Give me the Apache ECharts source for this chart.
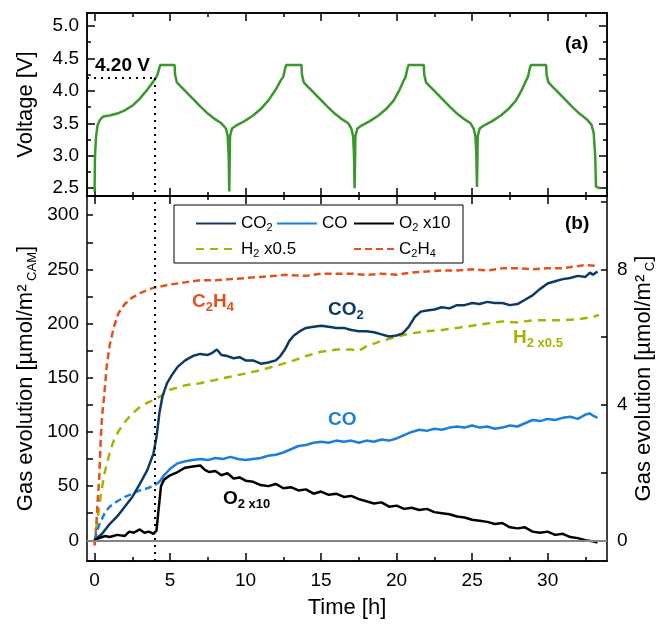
<!DOCTYPE html>
<html>
<head>
<meta charset="utf-8">
<script src="https://cdn.jsdelivr.net/npm/echarts@6/dist/echarts.min.js"></script>
<style>
html, body { margin: 0; padding: 0; background: #fff; }
#main { width: 660px; height: 624px; }
</style>
</head>
<body>
<div id="main"></div>
<script>
// axis ranges / ticks
var T_MIN = -0.5, T_MAX = 33.93;
var V_MIN = 2.38, V_MAX = 5.2;
var G_MIN = -19.1, G_MAX = 317.7;
var C_RATIO = 31.25; // right axis (per m2 C) = left / ratio

var timeTicks = [0, 5, 10, 15, 20, 25, 30];
var timeMinor = [2.5, 7.5, 12.5, 17.5, 22.5, 27.5, 32.5];
var voltTicks = [2.5, 3.0, 3.5, 4.0, 4.5, 5.0];
var voltMinor = [2.75, 3.25, 3.75, 4.25, 4.75];
var gasLabels = [0, 50, 100, 150, 200, 250, 300];
var gasTicks = [0, 25, 50, 75, 100, 125, 150, 175, 200, 225, 250, 275, 300];
var gasCLabels = [0, 4, 8];
var gasCTicks = [0, 2, 4, 6, 8, 10];

var cutoffTime = 4, cutoffVolt = 4.2;

// cell voltage [h, V]
var voltage = [
  [0, 2.45], [0.03, 3.0], [0.1, 3.3], [0.2, 3.47], [0.35, 3.55], [0.5, 3.59], [0.65, 3.61], [1.0, 3.62],
  [1.5, 3.65], [2.0, 3.7], [2.5, 3.77], [3.0, 3.88], [3.5, 4.02], [4.0, 4.18], [4.15, 4.24], [4.3, 4.36],
  [4.35, 4.4], [5.3, 4.4], [5.33, 4.25], [5.45, 4.13], [5.7, 4.07], [6.0, 4.0], [6.5, 3.88], [7.0, 3.76],
  [7.5, 3.65], [8.0, 3.56], [8.4, 3.5], [8.7, 3.42], [8.82, 3.3], [8.88, 3.0], [8.92, 2.45],
  [8.97, 3.3], [9.1, 3.42], [9.4, 3.47], [9.9, 3.53], [10.5, 3.62], [11.0, 3.72], [11.5, 3.85], [12.0, 4.02],
  [12.3, 4.15], [12.5, 4.22], [12.62, 4.35], [12.7, 4.4], [13.7, 4.4], [13.73, 4.25], [13.85, 4.13], [14.1, 4.07],
  [14.4, 4.0], [14.9, 3.88], [15.4, 3.76], [15.9, 3.65], [16.4, 3.56], [16.8, 3.5], [17.0, 3.42], [17.12, 3.3],
  [17.18, 3.0], [17.22, 2.5],
  [17.27, 3.3], [17.4, 3.42], [17.7, 3.47], [18.2, 3.53], [18.8, 3.62], [19.3, 3.72], [19.8, 3.85], [20.2, 4.02],
  [20.45, 4.15], [20.6, 4.22], [20.72, 4.35], [20.8, 4.4], [21.8, 4.4], [21.83, 4.25], [21.95, 4.13], [22.2, 4.07],
  [22.5, 4.0], [23.0, 3.88], [23.5, 3.76], [24.0, 3.65], [24.5, 3.56], [24.9, 3.5], [25.1, 3.42], [25.22, 3.3],
  [25.28, 3.0], [25.32, 2.52],
  [25.37, 3.3], [25.5, 3.42], [25.8, 3.47], [26.3, 3.53], [26.9, 3.62], [27.4, 3.72], [27.9, 3.85], [28.3, 4.02],
  [28.55, 4.15], [28.7, 4.22], [28.82, 4.35], [28.9, 4.4], [29.9, 4.4], [29.93, 4.25], [30.05, 4.13], [30.3, 4.07],
  [30.6, 4.0], [31.1, 3.88], [31.6, 3.76], [32.1, 3.65], [32.6, 3.56], [32.9, 3.48], [33.05, 3.35], [33.15, 3.0],
  [33.2, 2.52], [33.5, 2.5]
];

// gas evolution [h, umol/m2 CAM]
var co2 = [
  [0, 0], [0.5, 6], [1, 15], [1.5, 22], [2, 31], [2.5, 40], [3, 52], [3.5, 65], [3.9, 80], [4.1, 95],
  [4.3, 118], [4.5, 133], [4.8, 145], [5.1, 152], [5.5, 160], [6, 166], [6.5, 170], [7, 172], [7.5, 171],
  [7.8, 173], [8.1, 176], [8.4, 171], [8.8, 170], [9.2, 168], [9.6, 169], [10, 166], [10.5, 166], [11, 163],
  [11.5, 164], [12, 166], [12.3, 170], [12.6, 176], [12.9, 184], [13.2, 189], [13.6, 193], [14, 196],
  [14.5, 197], [15, 198], [15.5, 197], [16, 196], [16.5, 196], [17, 194], [17.5, 193], [18, 193], [18.5, 192],
  [19, 190], [19.5, 188], [20, 189], [20.4, 191], [20.8, 197], [21.2, 206], [21.6, 211], [22, 212],
  [22.5, 213], [23, 215], [23.5, 214], [24, 217], [24.5, 217], [25, 219], [25.5, 218], [26, 220], [26.5, 219],
  [27, 219], [27.5, 217], [28, 218], [28.5, 222], [29, 226], [29.5, 232], [30, 237], [30.5, 239], [31, 241],
  [31.5, 242], [32, 244], [32.5, 243], [32.8, 247], [33, 245], [33.3, 248]
];
var coEarly = [
  [0, 0], [0.3, 14], [0.7, 26], [1, 31], [1.5, 36], [2, 40], [2.5, 43], [3, 46], [3.5, 48], [4, 51]
];
var co = [
  [4, 51], [4.3, 54], [4.6, 60], [5, 66], [5.5, 71], [6, 73], [6.5, 74], [7, 75], [7.5, 74], [8, 76],
  [8.5, 75], [9, 77], [9.5, 75], [10, 74], [10.5, 75], [11, 76], [11.5, 78], [12, 79], [12.5, 81], [13, 84],
  [13.5, 87], [14, 88], [14.5, 90], [15, 91], [15.5, 90], [16, 92], [16.5, 91], [17, 92], [17.5, 90], [18, 92],
  [18.5, 91], [19, 93], [19.5, 92], [20, 94], [20.5, 97], [21, 100], [21.5, 102], [22, 101], [22.5, 103],
  [23, 102], [23.5, 104], [24, 105], [24.5, 104], [25, 106], [25.5, 104], [26, 105], [26.5, 103], [27, 104],
  [27.5, 106], [28, 105], [28.5, 108], [29, 111], [29.5, 110], [30, 112], [30.5, 111], [31, 113], [31.5, 114],
  [32, 112], [32.5, 116], [32.8, 117], [33, 115], [33.3, 113]
];
var o2 = [
  [0, 0], [0.3, 2], [0.7, 4], [1, 3], [1.5, 5], [2, 4], [2.3, 8], [2.6, 7], [3, 10], [3.3, 7], [3.6, 8],
  [3.9, 6], [4.1, 9], [4.25, 30], [4.4, 50], [4.6, 56], [5, 60], [5.5, 63], [6, 67], [6.5, 68], [7, 69],
  [7.3, 65], [7.6, 63], [8, 64], [8.4, 60], [8.8, 62], [9.2, 57], [9.6, 58], [10, 55], [10.5, 54], [11, 51],
  [11.5, 50], [12, 52], [12.5, 48], [13, 49], [13.5, 46], [14, 47], [14.5, 43], [15, 45], [15.5, 42], [16, 43],
  [16.5, 40], [17, 41], [17.5, 38], [18, 36], [18.5, 34], [19, 35], [19.5, 31], [20, 32], [20.5, 29], [21, 30],
  [21.5, 28], [22, 29], [22.5, 26], [23, 25], [23.5, 24], [24, 22], [24.5, 21], [25, 19], [25.5, 18], [26, 17],
  [26.5, 15], [27, 16], [27.5, 12], [28, 11], [28.5, 12], [29, 8], [29.5, 7], [30, 8], [30.5, 5], [31, 6],
  [31.5, 3], [32, 2], [32.5, 0], [33, -1], [33.3, -2]
];
var h2 = [
  [0, -3], [0.1, 10], [0.25, 25], [0.4, 40], [0.6, 58], [0.8, 70], [1.05, 83], [1.3, 93], [1.6, 101], [2, 109],
  [2.5, 117], [3, 123], [3.5, 127], [4, 130], [4.5, 134], [5, 139], [5.5, 141], [6, 143], [7, 145], [8, 148],
  [9, 151], [10, 154], [11, 157], [12, 161], [13, 165], [14, 170], [15, 174], [16, 176], [17, 176], [17.5, 175],
  [18, 179], [19, 184], [20, 188], [21, 191], [22, 193], [23, 194], [24, 196], [25, 198], [26, 200], [27, 202],
  [28, 201], [29, 203], [30, 203], [31, 203], [32, 204], [33, 206], [33.4, 208]
];
var c2h4 = [
  [0, -5], [0.1, 10], [0.2, 35], [0.3, 55], [0.4, 90], [0.5, 115], [0.65, 135], [0.8, 160], [1.0, 180],
  [1.3, 198], [1.6, 210], [2.0, 218], [2.5, 224], [3.0, 228], [3.9, 233], [5, 236], [6, 238], [7, 240],
  [8, 240], [9, 241], [10, 242], [11, 243], [12, 244], [12.6, 245], [14, 244], [15, 246], [16, 246], [17, 246],
  [18, 245], [19, 246], [20, 245], [21, 247], [22, 248], [23, 249], [24, 249], [25, 250], [26, 249], [27, 251],
  [28, 251], [29, 250], [30, 251], [31, 251], [32, 253], [32.5, 254], [33.3, 253]
];

var FONT = 'Liberation Sans, Arial, sans-serif';
var colors = {
  volt: '#3a972b', co2: '#0d3a64', co: '#1b7fd5', o2: '#000000', h2: '#a8b300', c2h4: '#e2521c'
};

function frameAxis(grid, pos, min, max, ticks, len) {
  return {
    type: 'value', gridIndex: grid, position: pos, min: min, max: max,
    axisLine: { show: true, onZero: false, lineStyle: { color: '#000', width: 1.5 } },
    axisTick: { show: true, inside: true, length: len, customValues: ticks, lineStyle: { color: '#000', width: 1.5 } },
    axisLabel: { show: false },
    splitLine: { show: false }
  };
}
function withLabels(ax, values, margin, fmt) {
  ax.axisLabel = {
    show: true, customValues: values, margin: margin, fontSize: 19, color: '#000', fontFamily: FONT,
    formatter: fmt
  };
  return ax;
}
function setName(ax, name, gap, style, rotate) {
  ax.name = name;
  ax.nameLocation = 'middle';
  ax.nameGap = gap;
  ax.nameMoveOverlap = false;
  ax.nameTextStyle = style;
  if (rotate != null) ax.nameRotate = rotate;
}

var richName = {
  n: { fontSize: 22, fontFamily: FONT, color: '#000', lineHeight: 26 },
  s: { fontSize: 13, fontFamily: FONT, color: '#000', lineHeight: 26, verticalAlign: 'bottom' }
};

var xAxes = [
  frameAxis(0, 'bottom', T_MIN, T_MAX, timeTicks, 8),
  frameAxis(0, 'bottom', T_MIN, T_MAX, timeMinor, 4),
  frameAxis(0, 'top', T_MIN, T_MAX, timeTicks, 8),
  frameAxis(0, 'top', T_MIN, T_MAX, timeMinor, 4),
  withLabels(frameAxis(1, 'bottom', T_MIN, T_MAX, timeTicks, 8), timeTicks, 10),
  frameAxis(1, 'bottom', T_MIN, T_MAX, timeMinor, 4),
  frameAxis(1, 'top', T_MIN, T_MAX, timeTicks, 8),
  frameAxis(1, 'top', T_MIN, T_MAX, timeMinor, 4)
];
setName(xAxes[4], 'Time [h]', 36, { fontSize: 22, fontFamily: FONT, color: '#000' });

var yAxes = [
  withLabels(frameAxis(0, 'left', V_MIN, V_MAX, voltTicks, 8), voltTicks, 8, function (v) { return v.toFixed(1); }),
  frameAxis(0, 'left', V_MIN, V_MAX, voltMinor, 4),
  frameAxis(0, 'right', V_MIN, V_MAX, voltTicks, 8),
  frameAxis(0, 'right', V_MIN, V_MAX, voltMinor, 4),
  withLabels(frameAxis(1, 'left', G_MIN, G_MAX, gasTicks, 6), gasLabels, 8),
  withLabels(frameAxis(1, 'right', G_MIN / C_RATIO, G_MAX / C_RATIO, gasCTicks, 6), gasCLabels, 10)
];
setName(yAxes[0], 'Voltage [V]', 50, { fontSize: 22, fontFamily: FONT, color: '#000' });
setName(yAxes[4], '{n|Gas evolution [µmol/m²}{s| CAM}{n|]}', 48, { rich: richName });
setName(yAxes[5], '{n|Gas evolution [µmol/m²}{s| C}{n|]}', 24, { rich: richName }, 90);

function gasLine(name, data, color, dash) {
  return {
    name: name, type: 'line', xAxisIndex: 4, yAxisIndex: 4, data: data,
    symbol: 'none', smooth: false,
    lineStyle: { color: color, width: 2.5, type: dash || 'solid' },
    itemStyle: { color: color }
  };
}

var legendRich = {
  n: { fontSize: 17, fontFamily: FONT, color: '#000', lineHeight: 20 },
  s: { fontSize: 11, fontFamily: FONT, color: '#000', lineHeight: 20, verticalAlign: 'bottom' }
};
var legendNames = {
  'CO2': '{n|CO}{s|2}',
  'CO': '{n|CO}',
  'O2 x10': '{n|O}{s|2}{n| x10}',
  'H2 x0.5': '{n|H}{s|2}{n| x0.5}',
  'C2H4': '{n|C}{s|2}{n|H}{s|4}'
};
function legendCol(left, names) {
  return {
    orient: 'vertical', left: left, top: 210, itemGap: 7, itemWidth: 40, itemHeight: 14,
    data: names, selectedMode: false,
    itemStyle: { opacity: 0 },
    formatter: function (name) { return legendNames[name]; },
    textStyle: { rich: legendRich }
  };
}

function richLabel(x, y, text, color) {
  return {
    type: 'text', left: x, top: y, z: 10,
    style: {
      text: text, fill: color,
      rich: {
        m: { fontSize: 19, fontWeight: 'bold', fontFamily: FONT, fill: color, lineHeight: 24 },
        s: { fontSize: 13, fontWeight: 'bold', fontFamily: FONT, fill: color, lineHeight: 24, verticalAlign: 'bottom' }
      }
    }
  };
}

var dotted = { type: [2, 5], color: '#000', width: 2 };

var option = {
  animation: false,
  backgroundColor: '#fff',
  grid: [
    { left: 87, right: 53, top: 13, height: 183, containLabel: false, outerBoundsMode: 'none' },
    { left: 87, right: 53, top: 196, height: 365, containLabel: false, outerBoundsMode: 'none' }
  ],
  xAxis: xAxes,
  yAxis: yAxes,
  legend: [
    legendCol(190, ['CO2', 'H2 x0.5']),
    legendCol(271, ['CO']),
    legendCol(348, ['O2 x10', 'C2H4'])
  ],
  graphic: [
    { type: 'rect', shape: { x: 174, y: 205, width: 289, height: 58 }, z: 3,
      style: { fill: '#fff', stroke: '#000', lineWidth: 1 } },
    richLabel(95, 56, '{m|4.20 V}', '#000'),
    richLabel(565, 34, '{m|(a)}', '#000'),
    richLabel(565, 214, '{m|(b)}', '#000'),
    richLabel(192, 292, '{m|C}{s|2}{m|H}{s|4}', colors.c2h4),
    richLabel(328, 300, '{m|CO}{s|2}', colors.co2),
    richLabel(513, 328, '{m|H}{s|2 x0.5}', colors.h2),
    richLabel(328, 410, '{m|CO}', colors.co),
    richLabel(223, 489, '{m|O}{s|2 x10}', '#000')
  ],
  series: [
    {
      name: 'Voltage', type: 'line', xAxisIndex: 0, yAxisIndex: 0, data: voltage,
      symbol: 'none', lineStyle: { color: colors.volt, width: 2.5 },
      markLine: {
        silent: true, symbol: ['none', 'none'], label: { show: false }, lineStyle: dotted,
        data: [
          [{ coord: [T_MIN, cutoffVolt] }, { coord: [cutoffTime, cutoffVolt] }],
          [{ coord: [cutoffTime, cutoffVolt] }, { coord: [cutoffTime, V_MIN] }]
        ]
      }
    },
    (function () {
      var s = gasLine('H2 x0.5', h2, colors.h2, [8, 6]);
      s.markLine = {
        silent: true, symbol: ['none', 'none'], label: { show: false },
        data: [
          { yAxis: 0, lineStyle: { type: 'solid', color: '#858585', width: 2 } },
          { xAxis: cutoffTime, lineStyle: dotted }
        ]
      };
      return s;
    })(),
    gasLine('C2H4', c2h4, colors.c2h4, [7, 4]),
    gasLine('CO early', coEarly, colors.co, [7, 4]),
    gasLine('CO', co, colors.co),
    gasLine('CO2', co2, colors.co2),
    gasLine('O2 x10', o2, colors.o2)
  ]
};

var chart = echarts.init(document.getElementById('main'));
chart.setOption(option);
</script>
</body>
</html>
